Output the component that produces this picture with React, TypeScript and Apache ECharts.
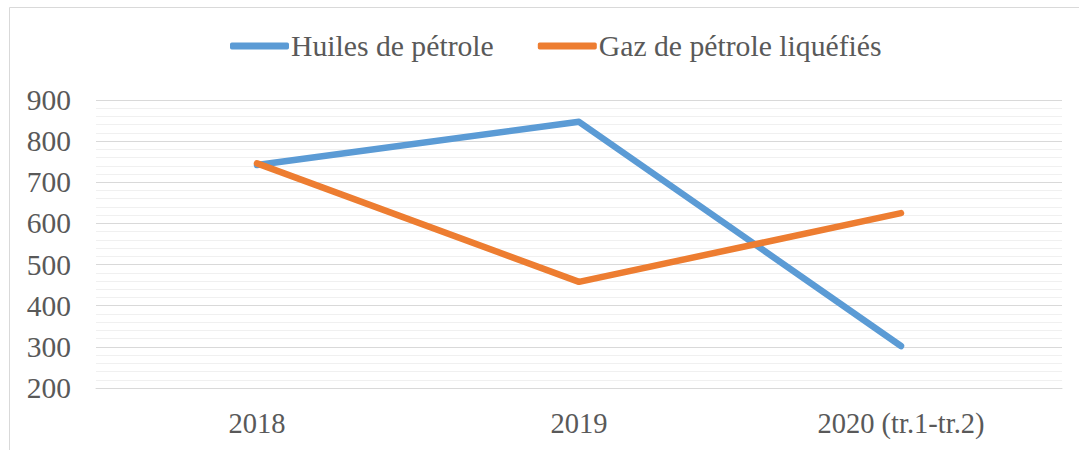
import React, { useEffect, useRef } from "react";
import * as echarts from "echarts";

const categories = ["2018", "2019", "2020 (tr.1-tr.2)"];
const huiles = [742, 847, 302];
const gaz = [746, 458, 625];
const seriesNames = ["Huiles de pétrole", "Gaz de pétrole liquéfiés"];

export default function App() {
  const ref = useRef<HTMLDivElement>(null);
  useEffect(() => {
    const chart = echarts.init(ref.current!, null, { renderer: "svg" });
    const font = "Liberation Serif";
    chart.setOption({
      animation: false,
      backgroundColor: "#ffffff",
      textStyle: { fontFamily: font },
      graphic: [
        {
          type: "rect",
          shape: { x: 9.5, y: 7.5, width: 1100, height: 500 },
          style: { fill: "none", stroke: "#d9d9d9", lineWidth: 1 },
          silent: true,
        },
      ],
      legend: {
        top: 31,
        left: 230,
        padding: 0,
        itemWidth: 59,
        itemHeight: 7,
        itemGap: 44,
        icon: "roundRect",
        textStyle: { fontFamily: font, fontSize: 29.7, color: "#595959", padding: [0, 0, 0, -3] },
        data: seriesNames,
      },
      grid: { left: 96, right: 17, top: 100, bottom: 62 },
      xAxis: {
        type: "category",
        data: categories,
        boundaryGap: true,
        axisLine: { show: true, lineStyle: { color: "#d9d9d9", width: 1 } },
        axisTick: { show: false },
        axisLabel: { fontFamily: font, fontSize: 28.5, color: "#595959", margin: 21 },
      },
      yAxis: {
        type: "value",
        min: 200,
        max: 900,
        interval: 100,
        axisLine: { show: false },
        axisTick: { show: false },
        axisLabel: { fontFamily: font, fontSize: 29.5, color: "#595959", margin: 25 },
        splitLine: { show: true, lineStyle: { color: "#d9d9d9", width: 1 } },
        minorTick: { show: false, splitNumber: 5 },
        minorSplitLine: { show: true, lineStyle: { color: "#f0f0f0", width: 1 } },
      },
      series: [
        {
          name: seriesNames[0],
          type: "line",
          data: huiles,
          symbol: "none",
          color: "#5b9bd5",
          lineStyle: { width: 6.5, color: "#5b9bd5", cap: "round", join: "round" },
        },
        {
          name: seriesNames[1],
          type: "line",
          data: gaz,
          symbol: "none",
          color: "#ed7d31",
          lineStyle: { width: 6.5, color: "#ed7d31", cap: "round", join: "round" },
        },
      ],
    });
    return () => chart.dispose();
  }, []);
  return (
    <div
      ref={ref}
      style={{ position: "absolute", left: 0, top: 0, width: 1079, height: 450 }}
    />
  );
}
